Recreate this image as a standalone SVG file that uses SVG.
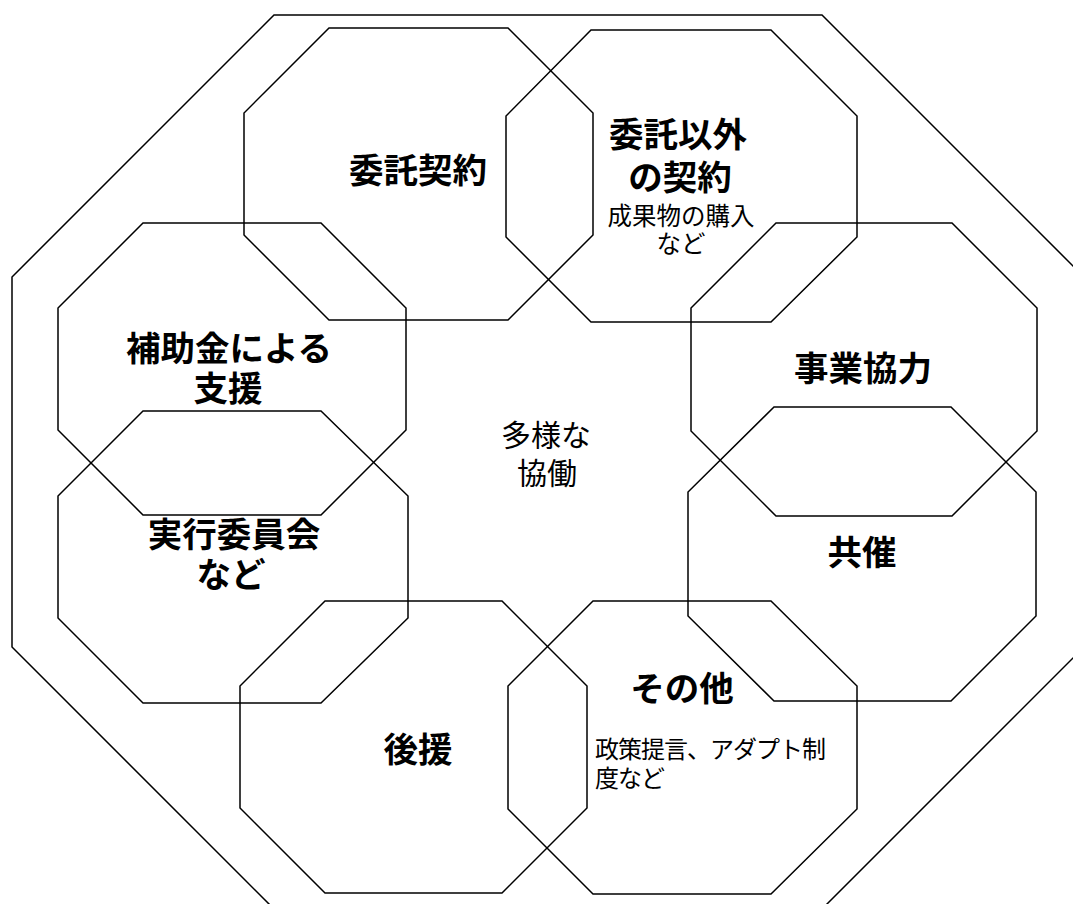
<svg xmlns="http://www.w3.org/2000/svg" width="1073" height="904" viewBox="0 0 1073 904">
<style>
.oct{fill:none;stroke:#000;stroke-width:1.5;stroke-linejoin:miter}
text{font-family:"Liberation Sans","Noto Sans CJK JP",sans-serif;fill:#000}
.b{font-size:34.5px;font-weight:700;text-anchor:middle}
.r{font-size:24.5px;font-weight:400;text-anchor:middle}
.c{font-size:30px;font-weight:400;text-anchor:middle}
.l{font-size:24px;font-weight:400;text-anchor:start;letter-spacing:-1px}
</style>
<rect width="1073" height="904" fill="#fff"/>
<g id="outer">
<polygon class="oct" points="274,15 822,15 1084,277 1084,647 822,909 274,909 12,647 12,277"/>
</g>
<g id="node-itaku">
<polygon class="oct" points="329,28 508,28 593,113 593,235 508,320 329,320 244,235 244,113"/>
<text class="b" x="418" y="183">委託契約</text>
</g>
<g id="node-itakuigai">
<polygon class="oct" points="591,30 771,30 857,116 857,237 771,322 591,322 506,237 506,116"/>
<text class="b"><tspan x="678" y="147">委託以外</tspan><tspan x="680" y="190">の契約</tspan></text>
<text class="r"><tspan x="681" y="225">成果物の購入</tspan><tspan x="681" y="253">など</tspan></text>
</g>
<g id="node-hojokin">
<polygon class="oct" points="143,223 321,223 406,308 406,430 321,515 143,515 58,430 58,308"/>
<text class="b"><tspan x="229" y="361">補助金による</tspan><tspan x="228" y="401">支援</tspan></text>
</g>
<g id="node-jikkoiinkai">
<polygon class="oct" points="143,411 321,411 408,496 408,618 321,703 143,703 58,618 58,496"/>
<text class="b"><tspan x="234" y="547">実行委員会</tspan><tspan x="231" y="587">など</tspan></text>
</g>
<g id="node-jigyokyoryoku">
<polygon class="oct" points="776,223 952,223 1037,308 1037,431 952,516 776,516 691,431 691,308"/>
<text class="b" x="863" y="381">事業協力</text>
</g>
<g id="node-kyosai">
<polygon class="oct" points="774,407 951,407 1036,492 1036,616 951,701 774,701 688,616 688,492"/>
<text class="b" x="862" y="565">共催</text>
</g>
<g id="node-koen">
<polygon class="oct" points="325,601 502,601 587,686 587,808 502,893 325,893 240,808 240,686"/>
<text class="b" x="418" y="762">後援</text>
</g>
<g id="node-sonota">
<polygon class="oct" points="593,601 771,601 857,686 857,809 771,894 593,894 508,809 508,686"/>
<text class="b" x="682" y="701">その他</text>
<text class="l"><tspan x="595" y="758">政策提言、アダプト制</tspan><tspan x="595" y="787">度など</tspan></text>
</g>
<g id="center">
<text class="c"><tspan x="546" y="446">多様な</tspan><tspan x="547" y="484">協働</tspan></text>
</g>
<g id="connectors"></g>
</svg>
